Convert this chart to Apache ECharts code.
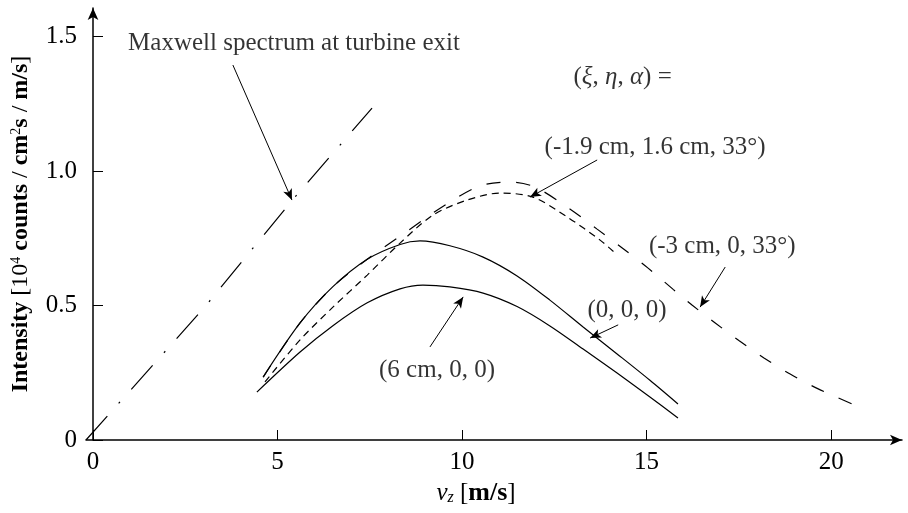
<!DOCTYPE html>
<html>
<head>
    <meta charset="utf-8">
    <title>Intensity vs v_z</title>
    <script src="https://cdn.jsdelivr.net/npm/echarts@6/dist/echarts.min.js"></script>
    <style>
        html, body { margin: 0; padding: 0; background: #ffffff; }
        #chart { width: 908px; height: 513px; }
    </style>
</head>
<body>
<div id="chart"></div>
<script>
    // tick labels
    var xTicks = [0, 5, 10, 15, 20];
    var yTicks = [0, 0.5, 1.0, 1.5];

    // Maxwell spectrum at turbine exit (dash-dot)
    var maxwellX = [-0.19, 3.0, 5.39, 7.56];
    var maxwellY = [0, 0.49, 0.89, 1.234];

    // (0, 0, 0)  upper solid
    var c000X = [4.61, 5.61, 6.50, 7.43, 8.32, 8.86, 9.67, 10.57, 11.49, 12.38, 13.28, 14.20, 15.09, 15.85];
    var c000Y = [0.234, 0.435, 0.570, 0.672, 0.727, 0.740, 0.722, 0.680, 0.610, 0.520, 0.420, 0.320, 0.222, 0.134];

    // (6 cm, 0, 0)  lower solid
    var c600X = [4.44, 5.61, 6.50, 7.43, 8.32, 8.94, 9.67, 10.57, 11.49, 12.38, 13.28, 14.20, 15.09, 15.85];
    var c600Y = [0.178, 0.327, 0.425, 0.510, 0.562, 0.576, 0.569, 0.546, 0.496, 0.424, 0.338, 0.249, 0.160, 0.082];

    // (-1.9 cm, 1.6 cm, 33°)  short dashes
    var cShortX = [4.66, 5.61, 6.50, 7.43, 8.32, 9.21, 10.14, 11.03, 11.92, 12.85, 13.74, 14.15];
    var cShortY = [0.216, 0.372, 0.494, 0.613, 0.732, 0.836, 0.892, 0.918, 0.903, 0.829, 0.743, 0.695];

    // (-3 cm, 0, 33°)  long dashes
    var cLongX = [4.61, 5.61, 6.50, 7.43, 8.5, 9.5, 10.49, 11.30, 11.98, 12.93, 13.66, 14.34, 15.04, 15.72, 16.23, 16.86, 17.5, 18.18, 18.89, 19.65, 20.57];
    var cLongY = [0.234, 0.435, 0.570, 0.672, 0.775, 0.87, 0.945, 0.959, 0.94, 0.858, 0.784, 0.714, 0.639, 0.56, 0.502, 0.435, 0.37, 0.305, 0.245, 0.19, 0.134];

    // annotation texts, anchored in data units
    var noteTexts = [
        { text: 'Maxwell spectrum at turbine exit', at: [0.95, 1.476], left: true },
        { text: '({i|ξ}, {i|η}, {i|α}) =', at: [14.35, 1.349] },
        { text: '(-1.9 cm, 1.6 cm, 33°)', at: [15.23, 1.086] },
        { text: '(-3 cm, 0, 33°)', at: [17.05, 0.721] },
        { text: '(0, 0, 0)', at: [14.47, 0.483] },
        { text: '(6 cm, 0, 0)', at: [9.32, 0.257] }
    ];
    // annotation arrows: from -> to, data units
    var noteArrows = [
        [[3.79, 1.394], [5.39, 0.892]],
        [[13.66, 1.041], [11.84, 0.903]],
        [[17.13, 0.643], [16.45, 0.494]],
        [[14.23, 0.428], [13.47, 0.379]],
        [[9.13, 0.346], [10.03, 0.532]]
    ];

    var FONT = '"Liberation Serif", "DejaVu Serif", serif';

    function zip(xs, ys) {
        return xs.map(function (x, i) { return [x, ys[i]]; });
    }

    var chart = echarts.init(document.getElementById('chart'), null, { renderer: 'canvas' });

    var option = {
        animation: false,
        backgroundColor: '#ffffff',
        grid: { left: 86, right: 6, top: 8, bottom: 73 },
        xAxis: {
            type: 'value',
            min: -0.19,
            max: 21.92,
            splitLine: { show: false },
            axisLine: {
                onZero: false,
                symbol: ['none', 'arrow'],
                symbolSize: [8, 12],
                lineStyle: { color: '#000', width: 1.5 }
            },
            axisTick: {
                inside: true, length: 10, customValues: xTicks,
                lineStyle: { color: '#000', width: 1 }
            },
            axisLabel: {
                customValues: xTicks, margin: 10,
                color: '#000', fontFamily: FONT, fontSize: 25
            },
            name: '{i|v}{sub|z} [{b|m/s}]',
            nameLocation: 'middle',
            nameGap: 40,
            nameTextStyle: {
                color: '#000', fontFamily: FONT, fontSize: 25,
                padding: [0, 36, 0, 0],
                rich: {
                    i: { fontStyle: 'italic', fontFamily: FONT, fontSize: 25, color: '#000' },
                    sub: { fontStyle: 'italic', fontFamily: FONT, fontSize: 16, color: '#000', verticalAlign: 'bottom', padding: [6, 0, 0, 0] },
                    b: { fontWeight: 'bold', fontFamily: FONT, fontSize: 26, color: '#000' }
                }
            }
        },
        yAxis: {
            type: 'value',
            min: 0,
            max: 1.606,
            splitLine: { show: false },
            axisLine: {
                symbol: ['none', 'arrow'],
                symbolSize: [8, 12],
                lineStyle: { color: '#000', width: 1.5 }
            },
            axisTick: {
                inside: true, length: 10, customValues: yTicks,
                lineStyle: { color: '#000', width: 1 }
            },
            axisLabel: {
                customValues: yTicks, margin: 9,
                color: '#000', fontFamily: FONT, fontSize: 25,
                formatter: function (v) { return v === 0 ? '0' : v.toFixed(1); }
            },
            name: '{b|Intensity} [10{sup|4} {b|counts} / {b|cm}{sup|2}{b|s} / {b|m/s}]',
            nameLocation: 'middle',
            nameGap: 53,
            nameRotate: 90,
            nameTextStyle: {
                color: '#000', fontFamily: FONT, fontSize: 24,
                rich: {
                    b: { fontWeight: 'bold', fontFamily: FONT, fontSize: 24, color: '#000' },
                    sup: { fontFamily: FONT, fontSize: 14, color: '#000', verticalAlign: 'top', padding: [0, 0, 8, 0] }
                }
            }
        },
        series: [
            {
                name: 'Maxwell', type: 'line', symbol: 'none', silent: true,
                data: zip(maxwellX, maxwellY),
                lineStyle: { color: '#000', width: 1.2, type: [32, 17, 2, 17] },
                markLine: {
                    silent: true,
                    symbol: ['none', 'arrow'],
                    symbolSize: [7, 11],
                    label: { show: false },
                    lineStyle: { color: '#000', width: 1, type: 'solid' },
                    data: noteArrows.map(function (a) {
                        return [{ coord: a[0] }, { coord: a[1] }];
                    })
                }
            },
            {
                name: '(-3 cm, 0, 33°)', type: 'line', symbol: 'none', smooth: 0.3, silent: true,
                data: zip(cLongX, cLongY),
                lineStyle: { color: '#000', width: 1.2, type: [14, 16] }
            },
            {
                name: '(0, 0, 0)', type: 'line', symbol: 'none', smooth: 0.3, silent: true,
                data: zip(c000X, c000Y),
                lineStyle: { color: '#000', width: 1.2 }
            },
            {
                name: '(6 cm, 0, 0)', type: 'line', symbol: 'none', smooth: 0.3, silent: true,
                data: zip(c600X, c600Y),
                lineStyle: { color: '#000', width: 1.2 }
            },
            {
                name: '(-1.9 cm, 1.6 cm, 33°)', type: 'line', symbol: 'none', smooth: 0.3, silent: true,
                data: zip(cShortX, cShortY),
                lineStyle: { color: '#000', width: 1.2, type: [7, 5] }
            },
            {
                name: 'notes', type: 'scatter', silent: true,
                symbolSize: 1,
                itemStyle: { color: 'transparent' },
                data: noteTexts.map(function (n) {
                    return {
                        value: n.at,
                        label: {
                            show: true,
                            position: 'inside',
                            align: n.left ? 'left' : 'center',
                            verticalAlign: 'middle',
                            formatter: n.text,
                            color: '#000',
                            fontFamily: FONT,
                            fontSize: 25,
                            rich: {
                                i: { fontStyle: 'italic', fontFamily: FONT, fontSize: 25, color: '#000' }
                            }
                        }
                    };
                })
            }
        ]
    };
    chart.setOption(option);

    window.onresize = function () {
        chart.resize();
    };
</script>
</body>
</html>
